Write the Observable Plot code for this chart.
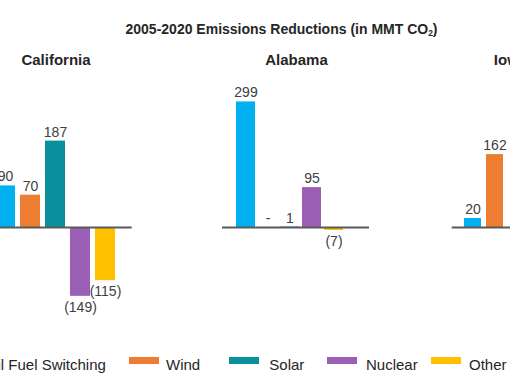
<!DOCTYPE html>
<html><head><meta charset="utf-8">
<script src="https://cdn.jsdelivr.net/npm/d3@7"></script>
<script src="https://cdn.jsdelivr.net/npm/@observablehq/plot@0.6"></script>
<style>
html,body{margin:0;padding:0;background:#fff;}
#wrap{position:relative;width:510px;height:382px;overflow:hidden;font-family:"Liberation Sans",Arial,sans-serif;color:#262626;}
.abs{position:absolute;white-space:nowrap;line-height:1;}
.panel{position:absolute;top:0;}
sub{font-size:60%;vertical-align:-0.25em;line-height:0;}
</style></head><body>
<div id="wrap"></div>
<script>
// ---- data ----
const states = ["California", "Alabama", "Iowa"];
const categories = ["Fossil Fuel Switching", "Wind", "Solar", "Nuclear", "Other (Hydro & Biomass)"];
const colors = ["#00B0F0", "#ED7D31", "#0A8F9C", "#9B5FB5", "#FFC000"];
const californiaValues = [90, 70, 187, -149, -115];
const alabamaValues = [299, 0, 1, 95, -7];
const iowaValues = [20, 162];
const titleText = "2005-2020 Emissions Reductions (in MMT CO";

// ---- layout (page coordinates) ----
const panelLayout = [
  {left: -60, w: 240, axisL: -20, axisR: 131.7, barL: -6, barR: 115, pad: 0.208, k: 0.462, titleX: 56},
  {left: 190, w: 220, axisL: 222, axisR: 369, barL: 234.5, barR: 345, pad: 0.15, k: 0.42, titleX: 296.5},
  {left: 430, w: 200, axisL: 451.7, axisR: 600, barL: 463.3, barR: 570.5, pad: 0.214, k: 0.45, titleX: 510.5}
];
const baselineY = 227;
const legendSwatchX = [-73, 129.3, 229, 327.3, 431];
const legendTextX = [-35, 166, 269.3, 366, 469];

const fmt = v => v === 0 ? "-" : v < 0 ? `(${-v})` : String(v);
const wrap = document.getElementById("wrap");

function addText(html, x, top, size, weight, center) {
  const d = document.createElement("div");
  d.className = "abs";
  d.innerHTML = html;
  d.style.left = x + "px";
  d.style.top = top + "px";
  d.style.fontSize = size + "px";
  d.style.fontWeight = weight;
  if (center) d.style.transform = "translateX(-50%)";
  wrap.appendChild(d);
}

// title
addText(titleText + "<sub>2</sub>)", 281.5, 22.4, 14, "bold", true);

const allValues = [californiaValues, alabamaValues, iowaValues];
states.forEach((state, si) => {
  const L = panelLayout[si];
  const vals = allValues[si];
  const data = vals.map((v, i) => ({cat: categories[i], v, label: fmt(v)}));
  addText(state, L.titleX, 52.3, 15, "bold", true);
  const svg = Plot.plot({
    width: L.w, height: 382,
    marginLeft: L.axisL - L.left,
    marginRight: L.left + L.w - L.axisR,
    marginTop: 0, marginBottom: 0,
    style: {background: "none", maxWidth: "none", overflow: "visible", fontFamily: "'Liberation Sans', Arial, sans-serif"},
    x: {type: "band", domain: categories, range: [L.barL - L.left, L.barR - L.left], paddingInner: L.pad, paddingOuter: 0, axis: null},
    y: {domain: [-200, 300], range: [baselineY + 200 * L.k, baselineY - 300 * L.k], axis: null},
    color: {domain: categories, range: colors},
    marks: [
      Plot.barY(data, {x: "cat", y: "v", fill: "cat"}),
      Plot.ruleY([0], {stroke: "#595959", strokeWidth: 2}),
      Plot.text(data.filter(d => d.v >= 0), {x: "cat", y: "v", text: "label", dy: -9, fontSize: 14, fill: "#404040"}),
      Plot.text(data.filter(d => d.v < 0), {x: "cat", y: "v", text: "label", dy: 11, fontSize: 14, fill: "#404040"})
    ]
  });
  svg.classList.add("panel");
  svg.style.left = L.left + "px";
  wrap.appendChild(svg);
});

// legend
categories.forEach((c, i) => {
  const s = document.createElement("div");
  s.className = "abs";
  s.style.left = legendSwatchX[i] + "px";
  s.style.top = "356.5px";
  s.style.width = "30px";
  s.style.height = "7px";
  s.style.background = colors[i];
  wrap.appendChild(s);
  addText(c, legendTextX[i], 356.6, 15, "normal", false);
});
</script>
</body></html>
